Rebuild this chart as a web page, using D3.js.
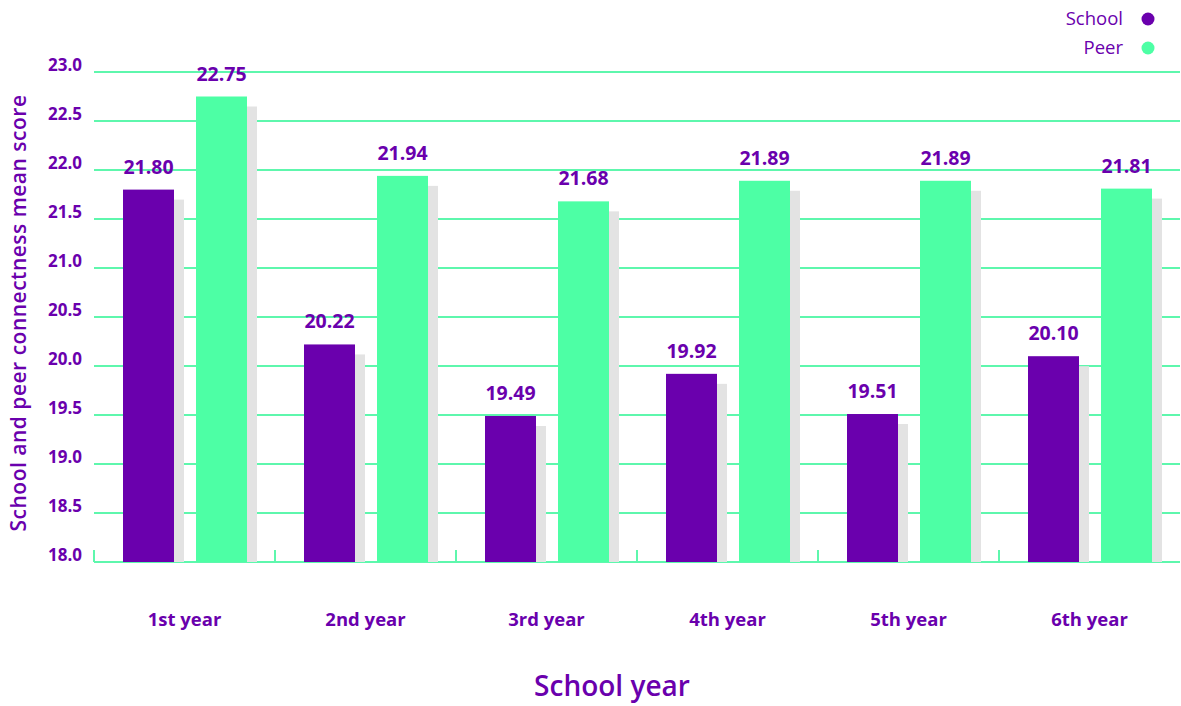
<!DOCTYPE html>
<html>
<head>
<meta charset="utf-8">
<script src="https://cdn.jsdelivr.net/npm/d3@7"></script>
<style>
  body { margin: 0; background: #fff; }
  svg { font-family: "Open Sans", "Noto Sans", sans-serif; }
</style>
</head>
<body>
<svg width="1181" height="706"></svg>
<script>
const years = ['1st year', '2nd year', '3rd year', '4th year', '5th year', '6th year']
const series = ['School', 'Peer']
const schoolScores = [21.80, 20.22, 19.49, 19.92, 19.51, 20.10]
const peerScores = [22.75, 21.94, 21.68, 21.89, 21.89, 21.81]
const yTicks = [18.0, 18.5, 19.0, 19.5, 20.0, 20.5, 21.0, 21.5, 22.0, 22.5, 23.0]

const purple = '#6a00ad'
const green = '#4dffa5'
const gridColor = '#5ef7ad'
const shadow = '#e3e3e3'

const svg = d3.select('svg')
const plotLeft = 94, plotRight = 1180, plotTop = 72, plotBottom = 562

const x = d3.scaleBand().domain(years).range([plotLeft, plotRight])
const xs = d3.scaleBand().domain(series).range([29, 29 + 124]).paddingInner(22 / 73)
const y = d3.scaleLinear().domain([18, 23]).range([plotBottom, plotTop])

// gridlines
svg.append('g').selectAll('line')
    .data(yTicks)
    .enter().append('line')
    .attr('x1', plotLeft).attr('x2', plotRight)
    .attr('y1', d => y(d)).attr('y2', d => y(d))
    .attr('stroke', gridColor).attr('stroke-width', 2)

// y tick labels
svg.append('g').selectAll('text')
    .data(yTicks)
    .enter().append('text')
    .attr('x', 82).attr('y', d => y(d) - 1)
    .attr('text-anchor', 'end')
    .attr('fill', purple).attr('font-weight', 700).attr('font-size', 17)
    .text(d => d.toFixed(1))

// category tick marks
svg.append('g').selectAll('line')
    .data(years)
    .enter().append('line')
    .attr('x1', d => x(d)).attr('x2', d => x(d))
    .attr('y1', plotBottom - 12).attr('y2', plotBottom)
    .attr('stroke', gridColor).attr('stroke-width', 2)

const rows = years.map((yr, i) => ({ year: yr, values: [schoolScores[i], peerScores[i]] }))

const groups = svg.append('g').selectAll('g')
    .data(rows)
    .enter().append('g')
    .attr('transform', d => `translate(${x(d.year)},0)`)

const bars = groups.selectAll('g')
    .data(d => d.values.map((v, j) => ({ key: series[j], value: v })))
    .enter().append('g')

// shadow behind
bars.append('rect')
    .attr('x', d => xs(d.key) + 10)
    .attr('y', d => y(d.value) + 10)
    .attr('width', xs.bandwidth())
    .attr('height', d => plotBottom - y(d.value) - 10)
    .attr('fill', shadow)

bars.append('rect')
    .attr('x', d => xs(d.key))
    .attr('y', d => y(d.value))
    .attr('width', xs.bandwidth())
    .attr('height', d => plotBottom - y(d.value))
    .attr('fill', d => d.key === 'School' ? purple : green)

bars.append('text')
    .attr('x', d => xs(d.key) + xs.bandwidth() / 2)
    .attr('y', d => y(d.value) - 16)
    .attr('text-anchor', 'middle')
    .attr('fill', purple).attr('font-weight', 700).attr('font-size', 19.5)
    .text(d => d.value.toFixed(2))

// x labels
svg.append('g').selectAll('text')
    .data(years)
    .enter().append('text')
    .attr('x', d => x(d) + x.bandwidth() / 2)
    .attr('y', 626)
    .attr('text-anchor', 'middle')
    .attr('fill', purple).attr('font-weight', 700).attr('font-size', 18.5)
    .text(d => d)

// axis titles
svg.append('text')
    .attr('x', 612).attr('y', 696)
    .attr('text-anchor', 'middle')
    .attr('fill', purple).attr('font-weight', 600).attr('font-size', 28)
    .text('School year')

svg.append('text')
    .attr('transform', 'translate(26,313) rotate(-90)')
    .attr('text-anchor', 'middle')
    .attr('fill', purple).attr('font-weight', 600).attr('font-size', 21)
    .attr('letter-spacing', 0.5)
    .text('School and peer connectness mean score')

// legend
const legend = svg.append('g').selectAll('g')
    .data(series)
    .enter().append('g')
    .attr('transform', (d, i) => `translate(0,${19 + i * 29})`)

legend.append('text')
    .attr('x', 1123).attr('y', 6)
    .attr('text-anchor', 'end')
    .attr('fill', purple).attr('font-size', 18.5)
    .text(d => d)

legend.append('circle')
    .attr('cx', 1148).attr('cy', 0).attr('r', 6.5)
    .attr('fill', d => d === 'School' ? purple : green)
</script>
</body>
</html>
